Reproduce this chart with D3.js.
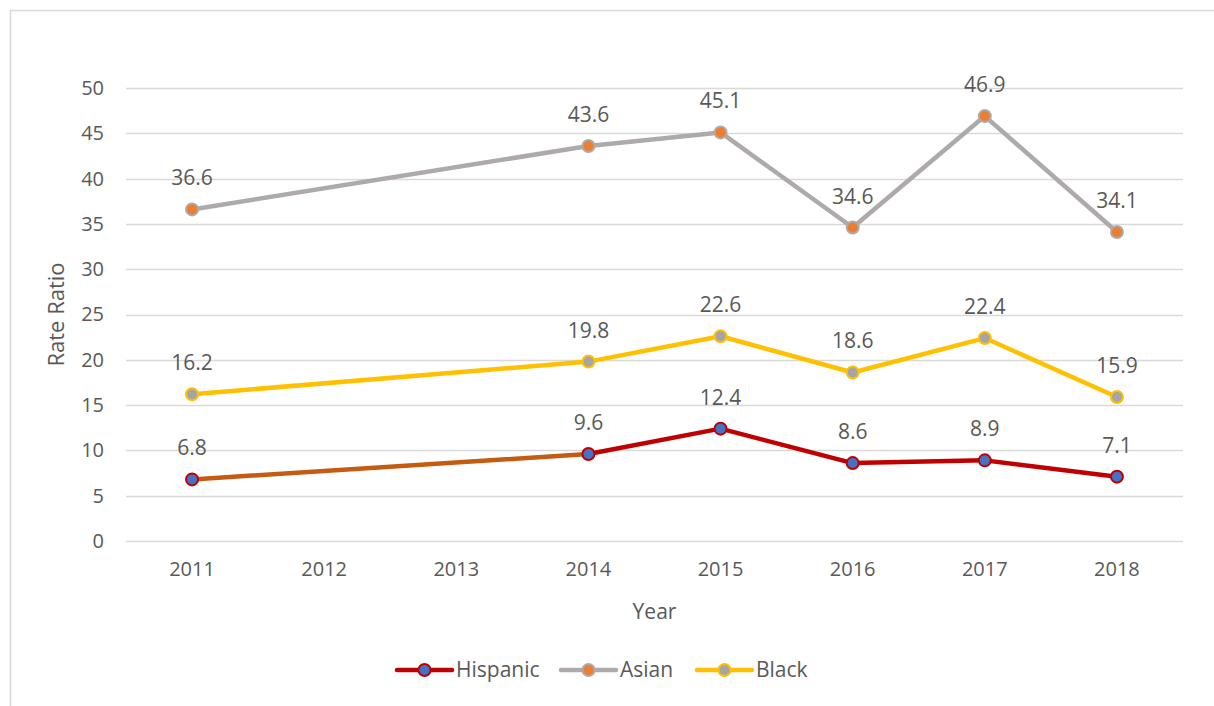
<!DOCTYPE html>
<html>
<head>
<meta charset="utf-8">
<script src="https://cdn.jsdelivr.net/npm/d3@7"></script>
<style>
  body { margin: 0; background: #fff; }
  text { font-family: "Open Sans", "Noto Sans", sans-serif; fill: #595959; }
</style>
</head>
<body>
<div id="chart"></div>
<script>
const years = ['2011', '2012', '2013', '2014', '2015', '2016', '2017', '2018']
const hispanic = [6.8, null, null, 9.6, 12.4, 8.6, 8.9, 7.1]
const asian = [36.6, null, null, 43.6, 45.1, 34.6, 46.9, 34.1]
const black = [16.2, null, null, 19.8, 22.6, 18.6, 22.4, 15.9]
const yTicks = [0, 5, 10, 15, 20, 25, 30, 35, 40, 45, 50]

const series = [
  { name: 'Hispanic', values: hispanic, line: '#C00000', fill: '#4472C4', gapLine: '#C55A11' },
  { name: 'Asian', values: asian, line: '#AEAAAA', fill: '#ED7D31', gapLine: '#AEAAAA' },
  { name: 'Black', values: black, line: '#FFC000', fill: '#A5A5A5', gapLine: '#FFC000' },
]

const W = 1214
const H = 706
const plot = { left: 126, right: 1183, top: 88, bottom: 541 }

const svg = d3.select('#chart')
  .append('svg')
  .attr('width', W)
  .attr('height', H)

// chart frame
svg.append('rect')
  .attr('x', 10.5).attr('y', 10.5)
  .attr('width', W + 20).attr('height', H + 20)
  .attr('fill', 'none')
  .attr('stroke', '#D9D9D9')
  .attr('stroke-width', 1.5)

const x = d3.scaleBand()
  .domain(years)
  .range([plot.left, plot.right])

const y = d3.scaleLinear()
  .domain([0, 50])
  .range([plot.bottom, plot.top])

// gridlines
svg.append('g')
  .selectAll('line')
  .data(yTicks)
  .join('line')
  .attr('x1', plot.left).attr('x2', plot.right)
  .attr('y1', d => Math.round(y(d)) + 0.5)
  .attr('y2', d => Math.round(y(d)) + 0.5)
  .attr('stroke', '#D9D9D9')
  .attr('stroke-width', 1.5)

// y axis labels
const yAxis = svg.append('g')
  .attr('transform', `translate(${plot.left},0)`)
  .call(d3.axisLeft(y).tickValues(yTicks).tickSize(0).tickPadding(22))
yAxis.select('.domain').remove()
yAxis.selectAll('text')
  .style('font-size', '20px')
  .attr('fill', '#595959')
  .attr('font-family', '"Open Sans", sans-serif')

// x axis labels
const xAxis = svg.append('g')
  .attr('transform', `translate(0,${plot.bottom})`)
  .call(d3.axisBottom(x).tickSize(0).tickPadding(21))
xAxis.select('.domain').remove()
xAxis.selectAll('text')
  .style('font-size', '20px')
  .attr('fill', '#595959')
  .attr('font-family', '"Open Sans", sans-serif')

// axis titles
svg.append('text')
  .attr('transform', `translate(64,${(plot.top + plot.bottom) / 2}) rotate(-90)`)
  .attr('text-anchor', 'middle')
  .style('font-size', '22px')
  .text('Rate Ratio')

svg.append('text')
  .attr('x', (plot.left + plot.right) / 2)
  .attr('y', 619)
  .attr('text-anchor', 'middle')
  .style('font-size', '21px')
  .text('Year')

const cx = i => x(years[i]) + x.bandwidth() / 2

// lines, with the segment across missing years drawn separately
series.forEach(s => {
  const pts = s.values.map((v, i) => ({ i, v })).filter(p => p.v != null)
  const segs = d3.pairs(pts)
  svg.append('g')
    .selectAll('line')
    .data(segs)
    .join('line')
    .attr('x1', d => cx(d[0].i)).attr('y1', d => y(d[0].v))
    .attr('x2', d => cx(d[1].i)).attr('y2', d => y(d[1].v))
    .attr('stroke', d => (d[1].i - d[0].i > 1 ? s.gapLine : s.line))
    .attr('stroke-width', 4.5)
    .attr('stroke-linecap', 'round')
})

// markers and labels
series.forEach(s => {
  const pts = s.values.map((v, i) => ({ i, v })).filter(p => p.v != null)
  const g = svg.append('g')
  g.selectAll('circle')
    .data(pts)
    .join('circle')
    .attr('cx', d => cx(d.i))
    .attr('cy', d => y(d.v))
    .attr('r', 6)
    .attr('fill', s.fill)
    .attr('stroke', s.line)
    .attr('stroke-width', 2)
  g.selectAll('text')
    .data(pts)
    .join('text')
    .attr('x', d => cx(d.i))
    .attr('y', d => y(d.v) - 24)
    .attr('text-anchor', 'middle')
    .style('font-size', '21px')
    .attr('fill', '#404040')
    .text(d => d.v.toFixed(1))
})

// legend
const legendItems = [
  { s: series[0], x: 397 },
  { s: series[1], x: 561 },
  { s: series[2], x: 697 },
]
const legend = svg.append('g').attr('transform', 'translate(0,670)')
legendItems.forEach(item => {
  const g = legend.append('g').attr('transform', `translate(${item.x},0)`)
  g.append('line')
    .attr('x1', 0).attr('x2', 55)
    .attr('y1', 0).attr('y2', 0)
    .attr('stroke', item.s.line)
    .attr('stroke-width', 4.5)
    .attr('stroke-linecap', 'round')
  g.append('circle')
    .attr('cx', 27.5).attr('cy', 0).attr('r', 6)
    .attr('fill', item.s.fill)
    .attr('stroke', item.s.line)
    .attr('stroke-width', 2)
  g.append('text')
    .attr('x', 59).attr('y', 0)
    .attr('dy', '0.35em')
    .style('font-size', '21px')
    .text(item.s.name)
})
</script>
</body>
</html>
